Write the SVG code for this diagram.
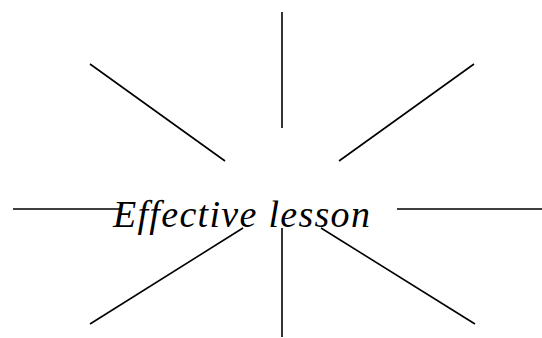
<svg xmlns="http://www.w3.org/2000/svg" width="542" height="338" viewBox="0 0 542 338">
<style>
.ln{stroke:#000;stroke-width:1.6;fill:none}
.lbl{font-family:"Liberation Serif","Times New Roman",serif;font-style:italic;font-size:38px;fill:#000;letter-spacing:1.3px}
</style>
<rect width="542" height="338" fill="#fff"/>
<g id="connectors">
<line class="ln" x1="282" y1="12" x2="282" y2="128"/>
<line class="ln" x1="90" y1="64" x2="225" y2="161"/>
<line class="ln" x1="474" y1="64" x2="339" y2="161"/>
<line class="ln" x1="13" y1="209" x2="120" y2="209"/>
<line class="ln" x1="397" y1="209" x2="542" y2="209"/>
<line class="ln" x1="90" y1="324" x2="243" y2="228"/>
<line class="ln" x1="321" y1="228" x2="475" y2="324"/>
<line class="ln" x1="282" y1="228" x2="282" y2="337"/>
</g>
<g id="center">
<text class="lbl" x="113" y="227">Effective lesson</text>
</g>
</svg>
